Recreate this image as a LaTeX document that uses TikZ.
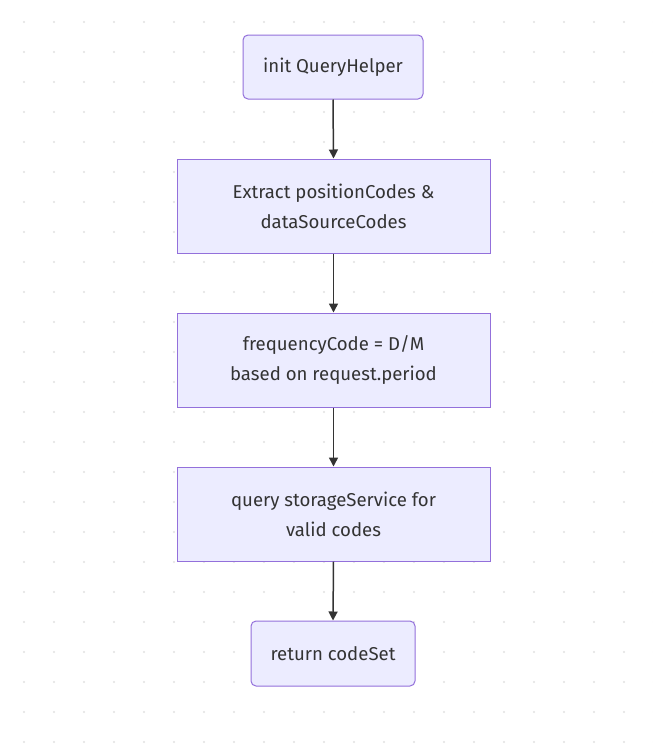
\documentclass[tikz,border=0pt]{standalone}
\usepackage{fontspec}
\setmainfont{Fira Sans}
\usetikzlibrary{arrows.meta}
\definecolor{nodefill}{HTML}{ECECFF}
\definecolor{nodeline}{HTML}{9370DB}
\definecolor{edgecol}{HTML}{333333}
\definecolor{dotcol}{HTML}{E2E2E2}
\definecolor{txtcol}{HTML}{333333}
\tikzset{
  flowbox/.style={draw=nodeline, fill=nodefill, line width=1pt, align=center,
    text=txtcol, font=\fontsize{18.6pt}{30pt}\selectfont, inner sep=0pt},
  roundbox/.style={flowbox, rounded corners=5pt},
  flowarrow/.style={draw=edgecol, line width=1.5pt, -{Triangle[length=9pt,width=9pt]}}
}
\begin{document}
\begin{tikzpicture}[x=1pt,y=-1pt]
\useasboundingbox (0,0) rectangle (653,750);
\fill[white] (0,0) rectangle (653,750);
\foreach \i in {0,...,21} {
  \foreach \j in {0,...,24} {
    \fill[dotcol] ({24+30*\i},{22+30*\j}) circle (1.2pt);
  }
}
\node[roundbox, minimum width=180pt, minimum height=64pt] (a) at (333,67) {init QueryHelper};
\node[flowbox, minimum width=313pt, minimum height=94pt] (b) at (333.5,206) {Extract positionCodes \&\\ dataSourceCodes};
\node[flowbox, minimum width=313pt, minimum height=94pt] (c) at (333.5,360) {frequencyCode = D/M\\ based on request.period};
\node[flowbox, minimum width=313pt, minimum height=94pt] (d) at (333.5,514) {query storageService for\\ valid codes};
\node[roundbox, minimum width=164pt, minimum height=65pt] (e) at (333,653.5) {return codeSet};
\draw[flowarrow] (a.south) -- (b.north);
\draw[flowarrow] (b.south) -- (c.north);
\draw[flowarrow] (c.south) -- (d.north);
\draw[flowarrow] (d.south) -- (e.north);
\end{tikzpicture}
\end{document}
